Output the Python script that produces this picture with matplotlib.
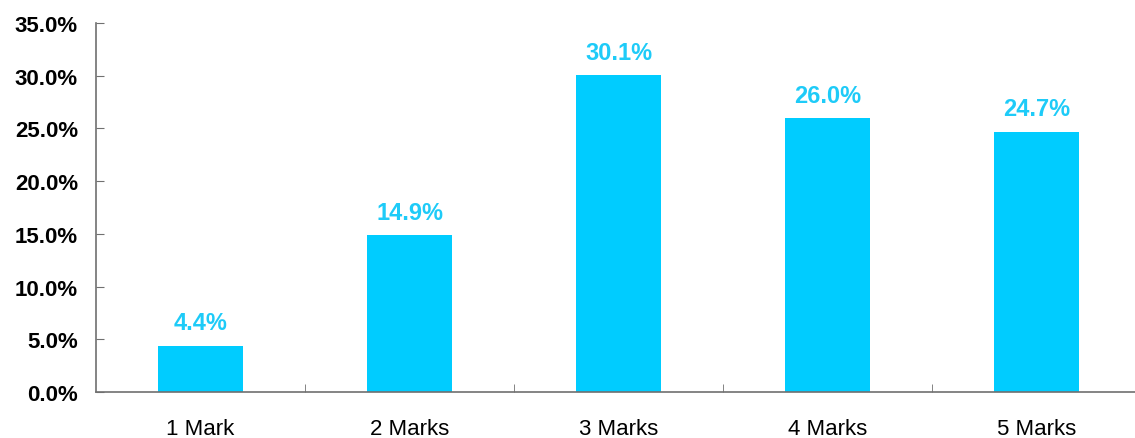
import matplotlib.pyplot as plt
import numpy as np

plt.rcParams['font.family'] = ['Liberation Sans', 'DejaVu Sans']

cats = ['1 Mark', '2 Marks', '3 Marks', '4 Marks', '5 Marks']
pct = [4.4, 14.9, 30.1, 26.0, 24.7]
yticks = [0, 5, 10, 15, 20, 25, 30, 35]

fig = plt.figure(figsize=(11.35, 4.39), dpi=100)
ax = fig.add_axes([0.0846, 0.1048, 0.9207, 0.8405])

x = np.arange(len(cats))
bars = ax.bar(x, pct, width=0.41, color='#00CCFF', zorder=2)
for b, v in zip(bars, pct):
    ax.annotate(f'{v:.1f}%', (b.get_x() + b.get_width() / 2, v),
                xytext=(0, 8), textcoords='offset points',
                ha='center', va='bottom', color='#1ECBF8',
                fontsize=17, fontweight='bold')

ax.set_xlim(-0.5, len(cats) - 0.5)
ax.set_ylim(0, 35)
ax.set_yticks(yticks)
ax.set_yticklabels([f'{t:.1f}%' for t in yticks], fontsize=16, fontweight='bold')
ax.set_xticks(x)
ax.set_xticklabels(cats, fontsize=16)
ax.set_xticks(np.arange(0.5, len(cats) - 1), minor=True)

for s in ['top', 'right']:
    ax.spines[s].set_visible(False)
for s in ['left', 'bottom']:
    ax.spines[s].set_color('#707070')
    ax.spines[s].set_linewidth(1.2)

ax.tick_params(axis='y', direction='in', length=6, color='#707070', pad=13)
ax.tick_params(axis='x', which='major', length=0, pad=19)
ax.tick_params(axis='x', which='minor', direction='in', length=6, color='#707070')

fig.savefig('out.png', dpi=100)
